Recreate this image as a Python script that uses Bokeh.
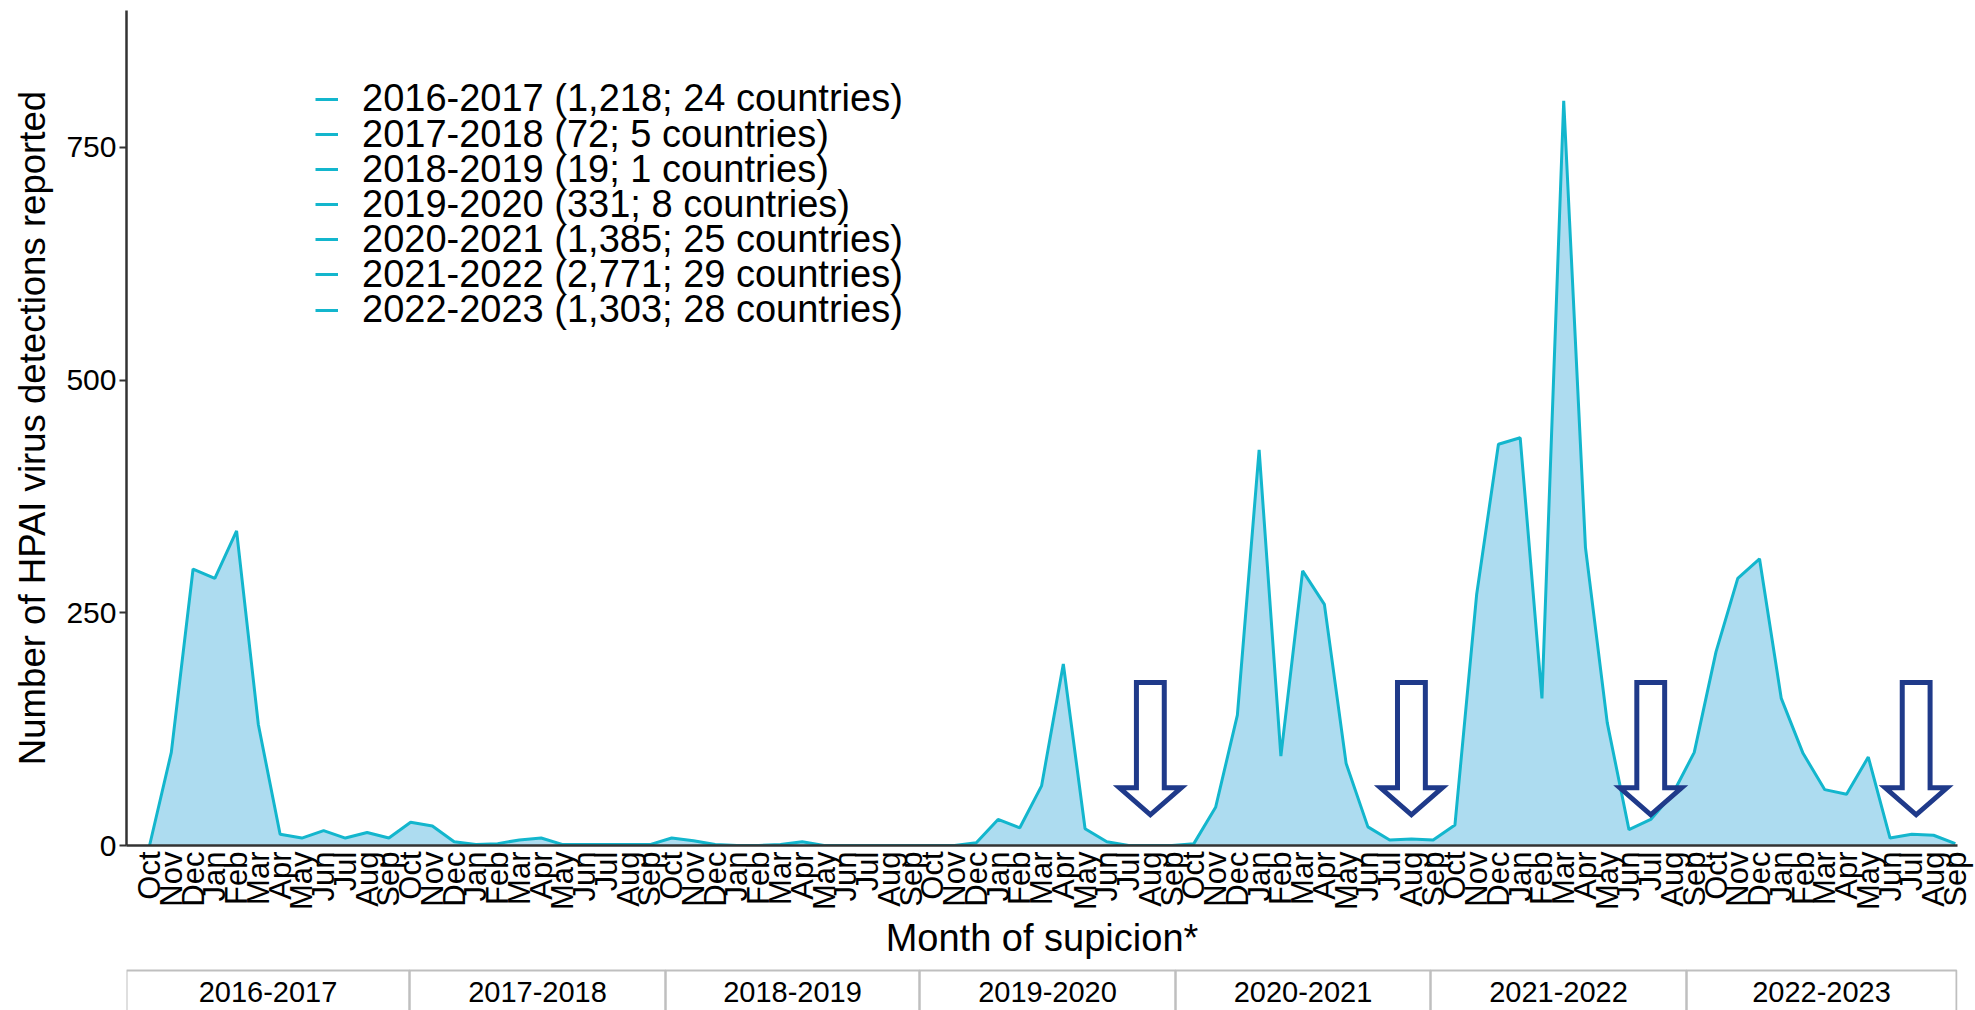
import math
from bokeh.plotting import figure
from bokeh.models import Range1d, FixedTicker, Legend, LegendItem, ColumnDataSource
from bokeh.layouts import column
from bokeh.embed import file_html
from bokeh.resources import INLINE
from bokeh.core.properties import value

# ---------------- data ----------------
month_names = ["Oct", "Nov", "Dec", "Jan", "Feb", "Mar", "Apr", "May", "Jun", "Jul", "Aug", "Sep"]
seasons = ["2016-2017", "2017-2018", "2018-2019", "2019-2020", "2020-2021", "2021-2022", "2022-2023"]
season_totals = ["1,218", "72", "19", "331", "1,385", "2,771", "1,303"]
season_countries = [24, 5, 1, 8, 25, 29, 28]

det_2016_17 = [0, 100, 297, 287, 338, 130, 12, 8, 16, 8, 14, 8]
det_2017_18 = [25, 21, 4, 1, 2, 6, 8, 1, 1, 1, 1, 1]
det_2018_19 = [8, 5, 1, 0, 0, 1, 4, 0, 0, 0, 0, 0]
det_2019_20 = [0, 0, 3, 28, 19, 64, 195, 18, 4, 0, 0, 0]
det_2020_21 = [2, 41, 140, 425, 96, 295, 259, 88, 20, 6, 7, 6]
det_2021_22 = [22, 270, 431, 438, 158, 800, 320, 132, 17, 28, 55, 100]
det_2022_23 = [208, 287, 308, 158, 99, 60, 55, 95, 8, 12, 11, 2]

y_ticks = [0, 250, 500, 750]

# annotation arrows (month index where the summer arrows point)
arrow_months = [46.0, 58.0, 69.0, 81.2]

# ---------------- build ----------------
detections = (det_2016_17 + det_2017_18 + det_2018_19 + det_2019_20 +
              det_2020_21 + det_2021_22 + det_2022_23)
n = len(detections)
xs = list(range(n))
tick_labels = month_names * len(seasons)

FONT = "Liberation Sans"
LINE_C = "#13B6CD"
FILL_C = "#ADDCF0"
ARROW_C = "#1F3A8A"

W = 1975
BL, BR = 126, 18

src = ColumnDataSource(dict(x=xs, y=detections))

p = figure(width=W, height=962, output_backend="svg", toolbar_location=None,
           x_range=Range1d(-1.06, 83.1), y_range=Range1d(0, 897),
           min_border_left=BL, min_border_right=BR, min_border_top=10,
           min_border_bottom=115)
p.background_fill_color = "white"
p.outline_line_color = None
p.grid.visible = False

p.varea(x="x", y1=0, y2="y", source=src, fill_color=FILL_C, fill_alpha=1.0)
line_r = p.line(x="x", y="y", source=src, line_color=LINE_C, line_width=3)

# arrows
a_top, a_base, a_tip, a_ws, a_wh = 175, 62, 33, 0.64, 1.42
axs, ays = [], []
for c in arrow_months:
    axs.append([c - a_ws, c + a_ws, c + a_ws, c + a_wh, c, c - a_wh, c - a_ws])
    ays.append([a_top, a_top, a_base, a_base, a_tip, a_base, a_base])
p.patches(xs=axs, ys=ays, fill_color="white", line_color=ARROW_C, line_width=5,
          line_join="miter")

# axes
xa = p.xaxis[0]
xa.ticker = FixedTicker(ticks=xs)
xa.major_label_overrides = {i: lab for i, lab in enumerate(tick_labels)}
xa.major_label_orientation = math.pi / 2
xa.major_label_text_font = FONT
xa.major_label_text_font_size = "31px"
xa.major_label_text_color = "black"
xa.major_label_standoff = 6
xa.major_tick_out = 0
xa.major_tick_in = 0
xa.minor_tick_out = 0
xa.minor_tick_in = 0
xa.axis_line_color = "#333333"
xa.axis_line_width = 2.5
xa.axis_label = "Month of supicion*"
xa.axis_label_text_font = FONT
xa.axis_label_text_font_size = "38px"
xa.axis_label_text_font_style = "normal"
xa.axis_label_text_color = "black"
xa.axis_label_standoff = 4

ya = p.yaxis[0]
ya.ticker = FixedTicker(ticks=y_ticks)
ya.major_label_text_font = FONT
ya.major_label_text_font_size = "30px"
ya.major_label_text_color = "black"
ya.major_label_standoff = 3
ya.major_tick_out = 7
ya.major_tick_in = 0
ya.major_tick_line_width = 2
ya.major_tick_line_color = "#333333"
ya.minor_tick_out = 0
ya.minor_tick_in = 0
ya.axis_line_color = "#333333"
ya.axis_line_width = 2.5
ya.axis_label = "Number of HPAI virus detections reported"
ya.axis_label_text_font = FONT
ya.axis_label_text_font_size = "36.6px"
ya.axis_label_text_font_style = "normal"
ya.axis_label_text_color = "black"
ya.axis_label_standoff = 10

# legend: one entry per season, rows packed tightly as in the original
leg_x, leg_y0, leg_pitch = 189, 724.6, 35.1
for i, (s, tot, cnt) in enumerate(zip(seasons, season_totals, season_countries)):
    leg = Legend(items=[LegendItem(label=f"{s} ({tot}; {cnt} countries)",
                                   renderers=[line_r])],
                 location=(leg_x, leg_y0 - leg_pitch * i), orientation="vertical",
                 label_text_font=FONT, label_text_font_size="38px",
                 label_text_color="black", glyph_width=23, glyph_height=20,
                 label_height=20, label_standoff=24, spacing=0, padding=0, margin=0,
                 border_line_alpha=0, background_fill_alpha=0)
    p.add_layout(leg, "center")

# season table below the chart
table_edges = [126, 409, 665, 919, 1175, 1430, 1686, 1956]
TH = 48
t = figure(width=W, height=TH, output_backend="svg", toolbar_location=None,
           x_range=Range1d(BL, W - BR), y_range=Range1d(0, TH),
           x_axis_type=None, y_axis_type=None,
           min_border_left=BL, min_border_right=BR, min_border_top=0,
           min_border_bottom=0)
t.outline_line_color = None
t.grid.visible = False
lefts = table_edges[:-1]
rights = table_edges[1:]
t.quad(left=lefts, right=rights, top=TH - 8, bottom=-20, fill_color=None,
       line_color="#BFBFBF", line_width=2)
centers = [(a + b) / 2 for a, b in zip(lefts, rights)]
t.text(x=centers, y=[TH - 29] * len(centers), text=seasons, text_font=value(FONT),
       text_font_size="29px", text_align="center", text_baseline="middle",
       text_color="black")

layout = column(p, t, spacing=0)
open("out.html", "w").write(file_html(layout, INLINE))
